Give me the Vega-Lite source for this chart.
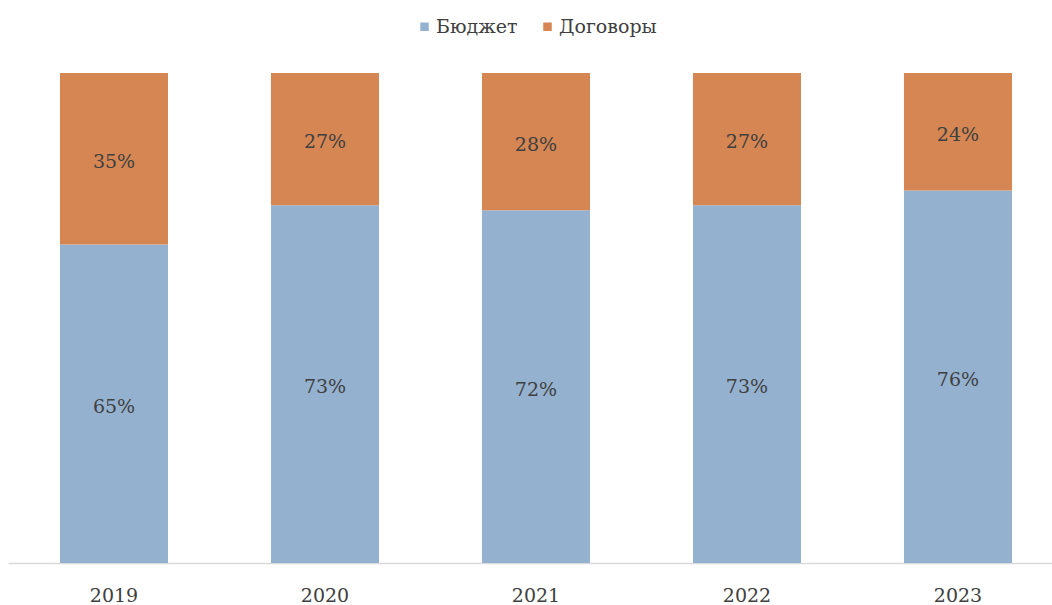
{
  "$schema": "https://vega.github.io/schema/vega-lite/v6.json",
  "width": 1044,
  "height": 490,
  "autosize": {"type": "none"},
  "padding": {"left": 8, "top": 73, "right": 0, "bottom": 42},
  "background": "white",
  "config": {
    "view": {"stroke": null},
    "font": "DejaVu Serif",
    "text": {"font": "DejaVu Serif"}
  },
  "data": {
    "values": [
      {"year": "2019", "source": "Бюджет", "value": 65},
      {"year": "2019", "source": "Договоры", "value": 35},
      {"year": "2020", "source": "Бюджет", "value": 73},
      {"year": "2020", "source": "Договоры", "value": 27},
      {"year": "2021", "source": "Бюджет", "value": 72},
      {"year": "2021", "source": "Договоры", "value": 28},
      {"year": "2022", "source": "Бюджет", "value": 73},
      {"year": "2022", "source": "Договоры", "value": 27},
      {"year": "2023", "source": "Бюджет", "value": 76},
      {"year": "2023", "source": "Договоры", "value": 24}
    ]
  },
  "transform": [
    {"stack": "value", "groupby": ["year"], "sort": [{"field": "source", "order": "ascending"}], "as": ["v0", "v1"]},
    {"calculate": "(datum.v0 + datum.v1) / 2", "as": "vmid"},
    {"calculate": "datum.value + '%'", "as": "label"}
  ],
  "encoding": {
    "x": {
      "field": "year",
      "type": "nominal",
      "scale": {"paddingInner": 0.488, "paddingOuter": 0.218, "align": 0.565},
      "axis": {
        "title": null,
        "labelAngle": 0,
        "ticks": false,
        "labelPadding": 23,
        "labelFontSize": 19,
        "labelColor": "#404040",
        "labelFont": "DejaVu Serif",
        "domainColor": "#d9d9d9",
        "domainWidth": 1.5
      }
    }
  },
  "layer": [
    {
      "mark": {"type": "bar"},
      "encoding": {
        "y": {"field": "v0", "type": "quantitative", "scale": {"domain": [0, 100]}, "axis": null},
        "y2": {"field": "v1"},
        "color": {
          "field": "source",
          "type": "nominal",
          "scale": {"domain": ["Бюджет", "Договоры"], "range": ["#94B2D0", "#D58653"]},
          "legend": {
            "title": null,
            "orient": "none",
            "direction": "horizontal",
            "legendX": 407,
            "legendY": -56,
            "symbolType": "square",
            "symbolSize": 72,
            "symbolStrokeWidth": 0,
            "labelFontSize": 19,
            "labelFont": "DejaVu Serif",
            "labelColor": "#404040",
            "labelOffset": 2,
            "columnPadding": 20
          }
        }
      }
    },
    {
      "mark": {"type": "text", "fontSize": 19, "color": "#404040", "baseline": "middle", "dy": 3},
      "encoding": {
        "y": {"field": "vmid", "type": "quantitative", "scale": {"domain": [0, 100]}},
        "text": {"field": "label", "type": "nominal"}
      }
    }
  ]
}
